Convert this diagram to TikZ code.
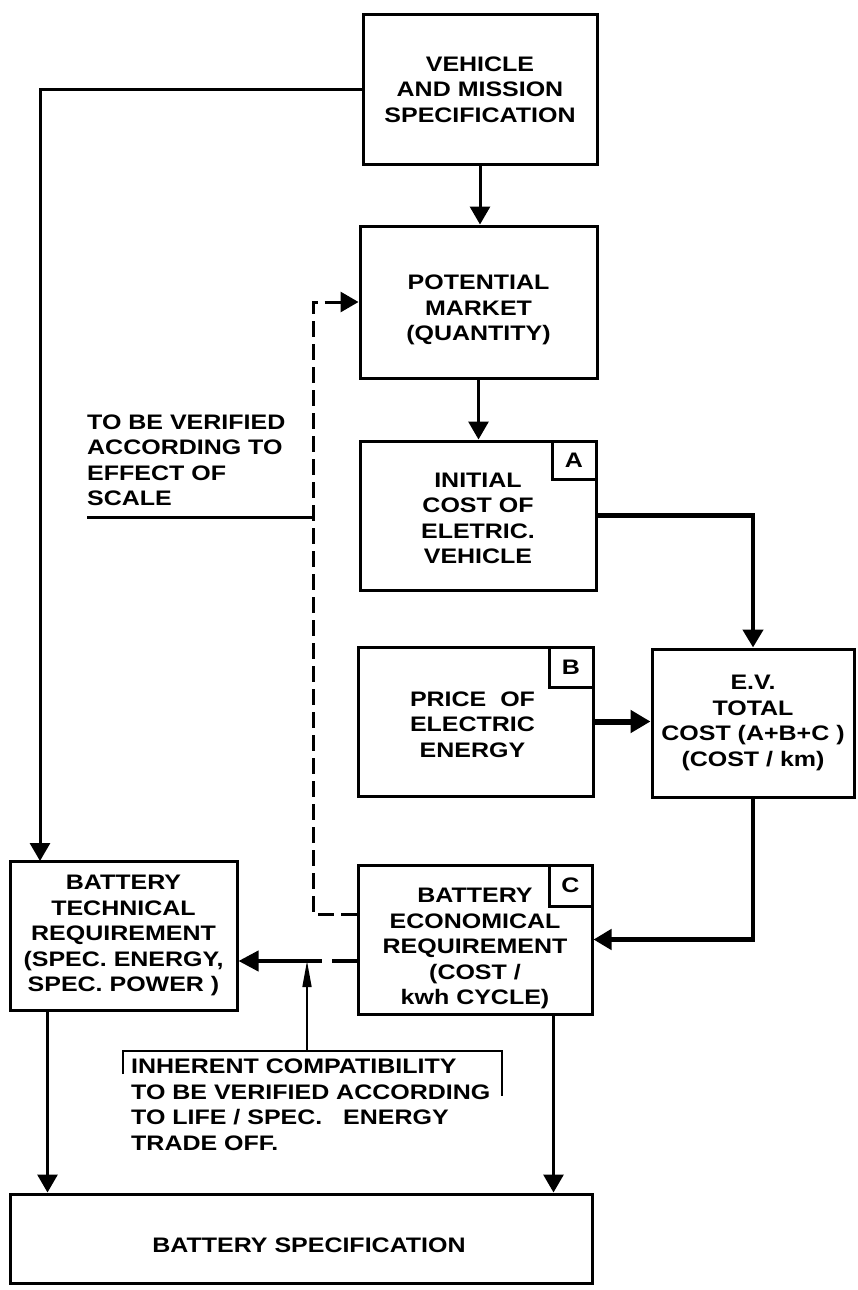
\documentclass[tikz,border=0pt]{standalone}
\usepackage{fontspec}
\newfontfamily\dgfont{Liberation Sans}[FakeStretch=1.19]
\newcommand\dglbl{\dgfont\bfseries\fontsize{21}{25.5}\selectfont}
\usetikzlibrary{arrows.meta,calc}
\begin{document}
\begin{tikzpicture}[x=1pt,y=-1pt,
  box/.style={draw, line width=3pt, align=center, inner sep=2pt, font=\dglbl},
  txt/.style={align=center, inner sep=0pt, font=\dglbl},
  tagbox/.style={draw, line width=3pt, font=\dglbl, inner sep=0pt, anchor=north east},
  conn/.style={line width=3pt, -{Triangle[length=18pt,width=20pt]}},
  heavy/.style={line width=4.5pt, -{Triangle[length=18pt,width=20pt]}},
  plain/.style={line width=3pt},
  dashconn/.style={line width=3pt, dash pattern=on 16pt off 7pt, -{Triangle[length=18pt,width=20pt]}},
  note/.style={font=\dglbl, align=left, inner sep=4pt, anchor=west}]
\useasboundingbox (0,0) rectangle (857,1290);
\fill[white] (0,0) rectangle (857,1290);

% boxes
\node[box, minimum width=234pt, minimum height=149pt] (veh) at (480,89.5) {VEHICLE\\AND MISSION\\SPECIFICATION};
\node[box, minimum width=237pt, minimum height=152pt] (pm) at (478.5,302) {};
\node[txt] (pmt) at ($(pm.center)+(0,8)$) {POTENTIAL\\MARKET\\(QUANTITY)};
\node[box, minimum width=236pt, minimum height=149pt] (ini) at (478,515.5) {};
\node[txt] (init) at ($(ini.center)+(0,3)$) {INITIAL\\COST OF\\ELETRIC.\\VEHICLE};
\node[tagbox, minimum width=44pt, minimum height=38pt] (ta) at (ini.north east) {A};
\node[box, minimum width=235pt, minimum height=149pt] (pri) at (475.5,721.5) {};
\node[txt] (prit) at ($(pri.center)+(-3,3)$) {PRICE\ \ OF\\ELECTRIC\\ENERGY};
\node[tagbox, minimum width=44pt, minimum height=40pt] (tb) at (pri.north east) {B};
\node[box, minimum width=202pt, minimum height=148pt] (ev) at (753,723) {E.V.\\TOTAL\\COST (A+B+C )\\(COST / km)};
\node[box, minimum width=227pt, minimum height=149pt] (btr) at (123.5,935.5) {BATTERY\\TECHNICAL\\REQUIREMENT\\(SPEC. ENERGY,\\SPEC. POWER )};
\node[box, minimum width=234pt, minimum height=149pt] (ber) at (475,939.5) {};
\node[txt] (bert) at ($(ber.center)+(0,9)$) {BATTERY\\ECONOMICAL\\REQUIREMENT\\(COST /\\kwh CYCLE)};
\node[tagbox, minimum width=43pt, minimum height=41pt] (tc) at (ber.north east) {C};
\node[box, minimum width=582pt, minimum height=89pt] (bs) at (301,1238.5) {};
\node[txt] (bst) at ($(bs.center)+(8,7)$) {BATTERY SPECIFICATION};

% free texts
\node[note] (scl) at (83,460.5) {TO BE VERIFIED\\ACCORDING TO\\EFFECT OF\\SCALE};
\node[note] (ann) at (127,1105) {INHERENT COMPATIBILITY\\TO BE VERIFIED ACCORDING\\TO LIFE / SPEC.\ \ \ ENERGY\\TRADE OFF.};

% coordinates
\coordinate (btrin) at (40,861);
\coordinate (fb) at (313,600);
\coordinate (sc) at (87,517);
\coordinate (dsh) at ($(ber.west)+(0,21.5)$);
\coordinate (fbs) at ($(ber.west)+(0,-25.5)$);
\coordinate (a1) at (123,1074);
\coordinate (a2) at (123,1051);
\coordinate (a3) at (502,1051);
\coordinate (a4) at (502,1096);
\coordinate (ap) at (307,1051);
\coordinate (b1) at ($(btr.south west)+(39,0)$);
\coordinate (b2) at ($(ber.south east)+(-40,0)$);

% connectors
\draw[conn] (veh.west) -| (btrin);
\draw[conn] (veh.south) -- (veh.south |- pm.north);
\draw[conn] (pm.south) -- (pm.south |- ini.north);
\draw[heavy] (ini.east) -| (ev.north);
\draw[line width=6pt, -{Triangle[length=20pt,width=22pt]}] (pri.east) -- (pri.east -| ev.west);
\draw[heavy] (ev.south) |- (ber.east);
\draw[dashconn] (fbs) -| (fb) |- (pm.west);
\draw[plain] (sc) -- (sc -| fb);
\draw[line width=4pt, dash pattern=on 25pt off 10pt on 300pt, -{Triangle[length=20pt,width=20pt]}] (dsh) -- (dsh -| btr.east);
\draw[line width=1.6pt] (a1) -- (a2) -- (a3) -- (a4);
\draw[line width=1.6pt, -{Triangle[length=26pt,width=9pt]}] (ap) -- (ap |- dsh);
\draw[conn] (b1) -- (b1 |- bs.north);
\draw[conn] (b2) -- (b2 |- bs.north);
\end{tikzpicture}
\end{document}
